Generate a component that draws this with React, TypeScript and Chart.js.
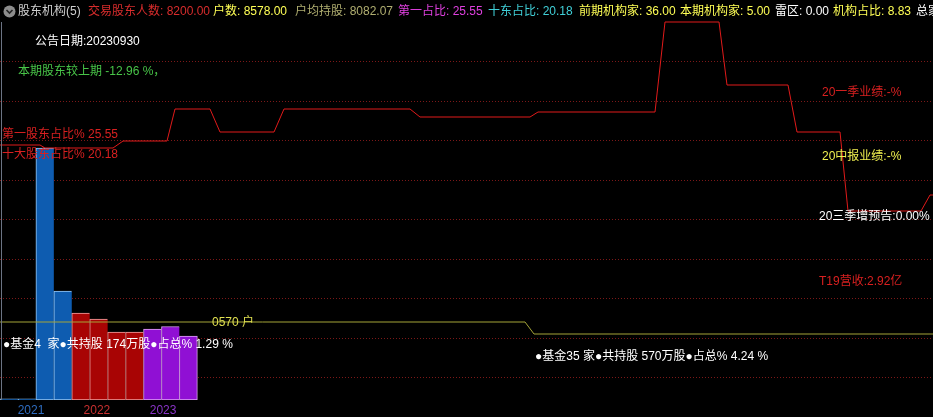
import React, { useEffect, useRef } from 'react';
import { Chart, registerables } from 'chart.js';

Chart.register(...registerables);

// ---- data ----
const quarters = ['2021Q1', '2021Q2', '2021Q3', '2021Q4', '2022Q1', '2022Q2', '2022Q3', '2022Q4', '2023Q1', '2023Q2', '2023Q3'];
const holderCounts = [150, 150, 33770, 14606, 11658, 10854, 9112, 9112, 9514, 9855, 8578];
const yearLabels = ['2021', '2022', '2023'];
const yearLabelAt = [1.23, 4.9, 8.59]; // position on the quarter axis

const instX = [0, 40, 45, 113, 123, 167, 175, 210, 220, 274, 284, 410, 420, 530, 538, 655, 665, 719, 727, 788, 797, 840, 848, 921, 930, 933];
const instY = [255, 255, 252, 252, 259, 259, 291, 291, 268, 268, 291, 291, 283, 283, 288, 288, 378, 378, 315, 315, 268, 268, 189, 189, 205, 205];
const houseX = [0, 525, 534, 933];
const houseY = [78, 78, 66, 66];

const headerItems = [
  { text: '股东机构(5)', x: 18, color: '#d0d0d0' },
  { text: '交易股东人数: 8200.00', x: 88, color: '#d82c2c' },
  { text: '户数: 8578.00', x: 213, color: '#ffff55' },
  { text: '户均持股: 8082.07', x: 295, color: '#b0ae70' },
  { text: '第一占比: 25.55', x: 398, color: '#e040e0' },
  { text: '十东占比: 20.18', x: 488, color: '#40d0d8' },
  { text: '前期机构家: 36.00', x: 579, color: '#ffff55' },
  { text: '本期机构家: 5.00', x: 680, color: '#ffff55' },
  { text: '雷区: 0.00', x: 775, color: '#ffffff' },
  { text: '机构占比: 8.83', x: 833, color: '#ffff55' },
  { text: '总家', x: 916, color: '#ffffff' },
];

const notes = [
  { text: '公告日期:20230930', x: 35, y: 42, color: '#ffffff' },
  { text: '本期股东较上期 -12.96 %，', x: 18, y: 72, color: '#48c448' },
  { text: '第一股东占比% 25.55', x: 2, y: 135, color: '#d82020' },
  { text: '十大股东占比% 20.18', x: 2, y: 155, color: '#d82020' },
  { text: '20一季业绩:-%', x: 822, y: 93, color: '#d82020' },
  { text: '20中报业绩:-%', x: 822, y: 157, color: '#f0f050' },
  { text: '20三季增预告:0.00%', x: 819, y: 217, color: '#ffffff' },
  { text: 'T19营收:2.92亿', x: 819, y: 282, color: '#d82020' },
  { text: '0570 户', x: 212, y: 323, color: '#e0e050' },
  { text: '●基金4  家●共持股 174万股●占总% 1.29 %', x: 3, y: 345, color: '#ffffff' },
  { text: '●基金35 家●共持股 570万股●占总% 4.24 %', x: 535, y: 357, color: '#ffffff' },
];

const yearStyle: Record<string, { fill: string; border: string; label: string }> = {
  '2021': { fill: '#0e5cb0', border: '#98c8f4', label: '#2e6cc0' },
  '2022': { fill: '#a80404', border: '#f0a0a0', label: '#c83030' },
  '2023': { fill: '#9010d4', border: '#e0a4f4', label: '#8a34c8' },
};

const FONT = '12px "Liberation Sans", "Noto Sans CJK SC", sans-serif';

const overlayPlugin = {
  id: 'overlay',
  afterDatasetsDraw(chart: any) {
    const ctx = chart.ctx;
    const area = chart.chartArea;
    ctx.save();
    // left frame line
    ctx.strokeStyle = '#6c7484';
    ctx.lineWidth = 1;
    ctx.beginPath();
    ctx.moveTo(1.5, area.top);
    ctx.lineTo(1.5, area.bottom);
    ctx.stroke();

    ctx.font = FONT;
    ctx.textBaseline = 'middle';
    ctx.textAlign = 'left';
    for (const n of notes) {
      ctx.fillStyle = n.color;
      ctx.fillText(n.text, n.x, n.y);
    }
    const xs = chart.scales.x;
    ctx.textAlign = 'center';
    yearLabels.forEach((y, i) => {
      ctx.fillStyle = yearStyle[y].label;
      ctx.fillText(y, xs.getPixelForValue(yearLabelAt[i]), area.bottom + 11);
    });
    ctx.restore();
  },
};

export default function App() {
  const ref = useRef<HTMLCanvasElement | null>(null);

  useEffect(() => {
    document.body.style.margin = '0';
    document.body.style.background = '#000';
    const canvas = ref.current!;
    const years = quarters.map((q) => q.slice(0, 4));
    const last = quarters.length - 1;
    const chart = new Chart(canvas, {
      type: 'bar',
      data: {
        datasets: [
          {
            type: 'line',
            label: '机构占比',
            data: instX.map((x, i) => ({ x, y: instY[i] })),
            xAxisID: 'x2',
            yAxisID: 'y2',
            borderColor: '#e01a1a',
            borderWidth: 1,
            pointRadius: 0,
            tension: 0,
            clip: false,
          } as any,
          {
            type: 'line',
            label: '户数',
            data: houseX.map((x, i) => ({ x, y: houseY[i] })),
            xAxisID: 'x2',
            yAxisID: 'y2',
            borderColor: '#a4a438',
            borderWidth: 1,
            pointRadius: 0,
            tension: 0,
          } as any,
          {
            type: 'bar',
            label: '股东人数',
            data: holderCounts.map((v, i) => ({ x: i, y: v })),
            xAxisID: 'x',
            yAxisID: 'y',
            grouped: false,
            backgroundColor: years.map((y) => yearStyle[y].fill),
            borderColor: years.map((y) => yearStyle[y].border),
            borderWidth: (c: any) =>
              c.dataIndex === last
                ? { left: 1, right: 1, top: 1, bottom: 1 }
                : { left: 1, right: 0, top: 1, bottom: 1 },
            borderSkipped: false,
            barPercentage: 1,
            categoryPercentage: 1,
          } as any,
        ],
      },
      options: {
        responsive: false,
        animation: false,
        devicePixelRatio: 1,
        layout: { padding: { top: 22, bottom: 17, left: 0, right: 0 } },
        plugins: { legend: { display: false }, tooltip: { enabled: false } },
        scales: {
          x: {
            type: 'linear',
            display: false,
            offset: false,
            bounds: 'data',
            grid: { offset: false },
            min: -0.5,
            max: 51.5,
            ticks: { stepSize: 1, includeBounds: false },
          },
          x2: { type: 'linear', display: false, offset: false, grid: { offset: false }, min: 0, max: 933 },
          y: { type: 'linear', display: false, min: 0, max: 50652 },
          y2: { type: 'linear', display: false, min: 0, max: 378 },
          yg: {
            type: 'linear',
            position: 'left',
            display: true,
            reverse: true,
            bounds: 'data',
            min: 0,
            max: 378 / 39.5,
            ticks: { display: false, stepSize: 1, includeBounds: false },
            grid: {
              drawTicks: false,
              lineWidth: 1,
              color: (c: any) => (c.tick && c.tick.value === 0 ? 'rgba(0,0,0,0)' : '#7c1818'),
            },
            border: { display: false, dash: [1, 2] },
          },
        },
      } as any,
      plugins: [overlayPlugin],
    });
    return () => chart.destroy();
  }, []);

  return (
    <div
      style={{
        position: 'fixed',
        left: 0,
        top: 0,
        width: 933,
        height: 417,
        background: '#000',
        overflow: 'hidden',
        fontFamily: '"Liberation Sans", "Noto Sans CJK SC", sans-serif',
        fontSize: 12,
      }}
    >
      <canvas ref={ref} width={933} height={417} style={{ position: 'absolute', left: 0, top: 0, width: 933, height: 417 }} />
      <svg width={13} height={13} style={{ position: 'absolute', left: 3, top: 5 }}>
        <circle cx={6.5} cy={6.5} r={6} fill="#8c8c8c" />
        <polyline points="3.5,5 6.5,8 9.5,5" fill="none" stroke="#222" strokeWidth={1.6} />
      </svg>
      {headerItems.map((h) => (
        <span
          key={h.text}
          style={{ position: 'absolute', left: h.x, top: 3, lineHeight: '16px', color: h.color, whiteSpace: 'nowrap' }}
        >
          {h.text}
        </span>
      ))}
    </div>
  );
}
